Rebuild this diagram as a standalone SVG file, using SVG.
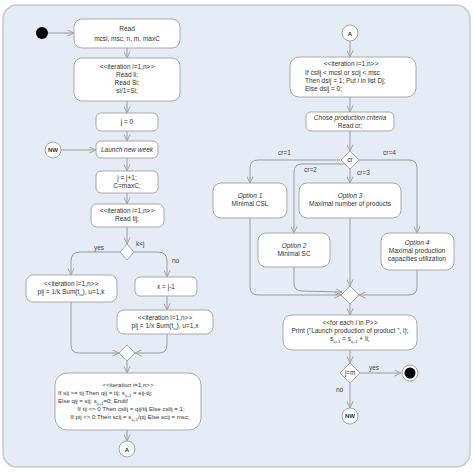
<svg xmlns="http://www.w3.org/2000/svg" width="474" height="474" viewBox="0 0 474 474">
<defs>
<marker id="arr" viewBox="0 0 8 8" refX="7.5" refY="4" markerWidth="7" markerHeight="7" markerUnits="userSpaceOnUse" orient="auto">
<path d="M0,0.5 L7.5,4 L0,7.5" fill="none" stroke="#9a9a9a" stroke-width="1"/>
</marker>
<style>
.box{fill:#ffffff;stroke:#a8a8a8;stroke-width:1}
.t{font-family:"Liberation Sans",Arial,sans-serif;font-size:6.5px;fill:#333}
.s{font-family:"Liberation Sans",Arial,sans-serif;font-size:6.1px;fill:#333}
.c{text-anchor:middle}
.i{font-style:italic}
.lbl{font-family:"Liberation Sans",Arial,sans-serif;font-size:6.5px;fill:#444}
.con{fill:none;stroke:#9a9a9a;stroke-width:1;marker-end:url(#arr)}
.dia{fill:#ffffff;stroke:#a8a8a8;stroke-width:1}
.circ{fill:#ffffff;stroke:#a8a8a8;stroke-width:1}
.ct{font-family:"Liberation Sans",Arial,sans-serif;font-size:6px;font-weight:bold;fill:#333;text-anchor:middle}
.sub{font-size:4.2px}
</style>
</defs>
<rect x="3" y="5" width="467" height="462" rx="14" fill="#e6ecf5" stroke="#c6c9cf" stroke-width="1.5"/>

<g id="connectors">
<path class="con" d="M48,33 L74,33"/>
<path class="con" d="M127,48 L127,58"/>
<path class="con" d="M127,101 L127,113"/>
<path class="con" d="M127,131 L127,141"/>
<path class="con" d="M61,150 L96,150"/>
<path class="con" d="M127,158 L127,171"/>
<path class="con" d="M127,193 L127,204"/>
<path class="con" d="M127,227 L127,244"/>
<path class="con" d="M120,252 L80,252 Q71,252 71,261 L71,275"/>
<path class="con" d="M134,252 L158,252 Q167,252 167,261 L167,277"/>
<path class="con" d="M167,296 L167,310"/>
<path class="con" d="M71,302 L71,345 Q71,353 79,353 L119,353"/>
<path class="con" d="M167,334 L167,345 Q167,353 159,353 L135,353"/>
<path class="con" d="M127,361 L127,373"/>
<path class="con" d="M127,430 L127,441"/>

<path class="con" d="M350,41 L350,57"/>
<path class="con" d="M350,97 L350,112"/>
<path class="con" d="M350,131 L350,151"/>
<path class="con" d="M340,160 L258,160 Q250,160 250,168 L250,183"/>
<path class="con" d="M350,169 L350,183"/>
<path class="con" d="M345,164 L302,164 Q294,164 294,172 L294,233"/>
<path class="con" d="M359,160 L409,160 Q417,160 417,168 L417,233"/>
<path class="con" d="M250,218 L250,287 Q250,295 258,295 L341,295"/>
<path class="con" d="M294,267 L294,283 Q294,291 302,291 L342,292"/>
<path class="con" d="M350,218 L350,286"/>
<path class="con" d="M417,270 L417,287 Q417,295 409,295 L359,295"/>
<path class="con" d="M350,304 L350,315"/>
<path class="con" d="M350,350 L350,363"/>
<path class="con" d="M360,373 L401,373"/>
<path class="con" d="M350,383 L350,408"/>

<text class="lbl" x="94" y="250">yes</text>
<text class="lbl" x="136" y="246">k&lt;j</text>
<text class="lbl" x="172" y="263">no</text>
<text class="lbl" x="278" y="155">cr=1</text>
<text class="lbl" x="383" y="155">cr=4</text>
<text class="lbl" x="304" y="172">cr=2</text>
<text class="lbl" x="357" y="175">cr=3</text>
<text class="lbl" x="369" y="370">yes</text>
<text class="lbl" x="336" y="392">no</text>
</g>

<g id="start"><circle cx="42" cy="33" r="6" fill="#000"/></g>

<g id="read">
<rect class="box" x="74" y="19" width="106" height="29" rx="8"/>
<text class="t c" x="127" y="31">Read</text>
<text class="t c" x="127" y="41">mcsl, msc, n, m, maxC</text>
</g>

<g id="iter1">
<rect class="box" x="74" y="58" width="106" height="43" rx="8"/>
<text class="t c" x="127" y="69">&lt;&lt;iteration i=1,n&gt;&gt;</text>
<text class="t c" x="127" y="77">Read li;</text>
<text class="t c" x="127" y="85">Read Si;</text>
<text class="t c" x="127" y="93">si/1=Si;</text>
</g>

<g id="j0">
<rect class="box" x="96" y="113" width="62" height="18" rx="5"/>
<text class="t c" x="127" y="124">j = 0</text>
</g>

<g id="nw1">
<circle class="circ" cx="53" cy="150" r="8"/>
<text class="ct" x="53" y="152.2">NW</text>
</g>

<g id="launch">
<rect class="box" x="96" y="141" width="62" height="17" rx="5"/>
<text class="t c i" x="127" y="152">Launch new week</text>
</g>

<g id="jinc">
<rect class="box" x="96" y="171" width="62" height="22" rx="5"/>
<text class="t c" x="127" y="180">j = j+1;</text>
<text class="t c" x="127" y="188">C=maxC;</text>
</g>

<g id="readt">
<rect class="box" x="91" y="204" width="73" height="23" rx="6"/>
<text class="t c" x="127" y="213">&lt;&lt;iteration i=1,n&gt;&gt;</text>
<text class="t c" x="127" y="221">Read tij;</text>
</g>

<g id="dec1"><path class="dia" d="M127,244 L134,252 L127,260 L120,252 Z"/></g>

<g id="pk">
<rect class="box" x="26" y="275" width="91" height="27" rx="7"/>
<text class="t c" x="71" y="286">&lt;&lt;iteration i=1,n&gt;&gt;</text>
<text class="t c" x="71" y="294">pij = 1/k Sum(t<tspan class="sub" dy="1.5">iu</tspan><tspan dy="-1.5">), u=1,k</tspan></text>
</g>

<g id="xj">
<rect class="box" x="135" y="277" width="62" height="19" rx="5"/>
<text class="t c" x="166" y="289">x = j-1</text>
</g>

<g id="px">
<rect class="box" x="117" y="310" width="96" height="24" rx="7"/>
<text class="t c" x="165" y="320">&lt;&lt;iteration i=1,n&gt;&gt;</text>
<text class="t c" x="165" y="328">pij = 1/x Sum(t<tspan class="sub" dy="1.5">iu</tspan><tspan dy="-1.5">), u=1,x</tspan></text>
</g>

<g id="merge1"><path class="dia" d="M127,345 L135,353 L127,361 L119,353 Z"/></g>

<g id="calc">
<rect class="box" x="55" y="373" width="146" height="57" rx="12"/>
<text class="s c" x="128" y="387">&lt;&lt;iteration i=1,n&gt;&gt;</text>
<text class="s" x="58" y="395">If sij &gt;= tij Then qij = tij; s<tspan class="sub" dy="1.5">ij+1</tspan><tspan dy="-1.5"> = sij-tij;</tspan></text>
<text class="s" x="58" y="403">Else qij = sij; s<tspan class="sub" dy="1.5">ij+1</tspan><tspan dy="-1.5">=0; Endif</tspan></text>
<text class="s c" x="131" y="411">If tij &lt;&gt; 0 Then cslij = qij/tij Else cslij = 1;</text>
<text class="s c" x="130" y="419">If pij &lt;&gt; 0 Then scij = s<tspan class="sub" dy="1.5">ij+1</tspan><tspan dy="-1.5">/pij Else scij = msc;</tspan></text>
</g>

<g id="a1">
<circle class="circ" cx="127" cy="449" r="8"/>
<text class="ct" x="127" y="451.5">A</text>
</g>

<g id="a2">
<circle class="circ" cx="350" cy="33" r="8"/>
<text class="ct" x="350" y="35.5">A</text>
</g>

<g id="iter2">
<rect class="box" x="290" y="57" width="126" height="40" rx="9"/>
<text class="t c" x="351" y="66">&lt;&lt;iteration i=1,n&gt;&gt;</text>
<text class="t" x="305" y="74.5">If cslij &lt; mcsl or scij &lt; msc</text>
<text class="t" x="305" y="82.5">Then dsij = 1; Put <tspan font-style="italic">i</tspan> in list Dj;</text>
<text class="t" x="305" y="90.5">Else dsij = 0;</text>
</g>

<g id="chose">
<rect class="box" x="306" y="112" width="88" height="19" rx="5"/>
<text class="t c i" x="350" y="120">Chose production criteria</text>
<text class="t c" x="350" y="128">Read cr;</text>
</g>

<g id="dec2">
<path class="dia" d="M350,151 L359,160 L350,169 L341,160 Z"/>
<text class="t c" x="350" y="162">cr</text>
</g>

<g id="opt1">
<rect class="box" x="213" y="183" width="74" height="35" rx="8"/>
<text class="t c i" x="250" y="198">Option 1</text>
<text class="t c" x="250" y="206">Minimal CSL</text>
</g>

<g id="opt3">
<rect class="box" x="299" y="183" width="102" height="35" rx="8"/>
<text class="t c i" x="350" y="198">Option 3</text>
<text class="t c" x="350" y="206">Maximal number of products</text>
</g>

<g id="opt2">
<rect class="box" x="258" y="233" width="72" height="34" rx="8"/>
<text class="t c i" x="294" y="248">Option 2</text>
<text class="t c" x="294" y="256">Minimal SC</text>
</g>

<g id="opt4">
<rect class="box" x="381" y="233" width="73" height="37" rx="8"/>
<text class="t c i" x="417" y="245">Option 4</text>
<text class="t c" x="417" y="253">Maximal production</text>
<text class="t c" x="417" y="261">capacities utilization</text>
</g>

<g id="merge2"><path class="dia" d="M350,286 L359,295 L350,304 L341,295 Z"/></g>

<g id="foreach">
<rect class="box" x="283" y="315" width="134" height="35" rx="9"/>
<text class="t c" x="350" y="325">&lt;&lt;for each <tspan font-style="italic">i</tspan> in P&gt;&gt;</text>
<text class="t c" x="350" y="333">Print ("Launch production of product ", i);</text>
<text class="t c" x="350" y="341">s<tspan class="sub" dy="1.5">ij+1</tspan><tspan dy="-1.5"> = s</tspan><tspan class="sub" dy="1.5">ij+1</tspan><tspan dy="-1.5"> + li;</tspan></text>
</g>

<g id="dec3">
<path class="dia" d="M350,363 L360,373 L350,383 L340,373 Z"/>
<text class="t c" x="350" y="375">j=m</text>
</g>

<g id="end">
<circle cx="410" cy="373" r="8" fill="#ffffff" stroke="#a8a8a8" stroke-width="1"/>
<circle cx="410" cy="373" r="5.5" fill="#000"/>
</g>

<g id="nw2">
<circle class="circ" cx="350" cy="416" r="8"/>
<text class="ct" x="350" y="418.2">NW</text>
</g>
</svg>
